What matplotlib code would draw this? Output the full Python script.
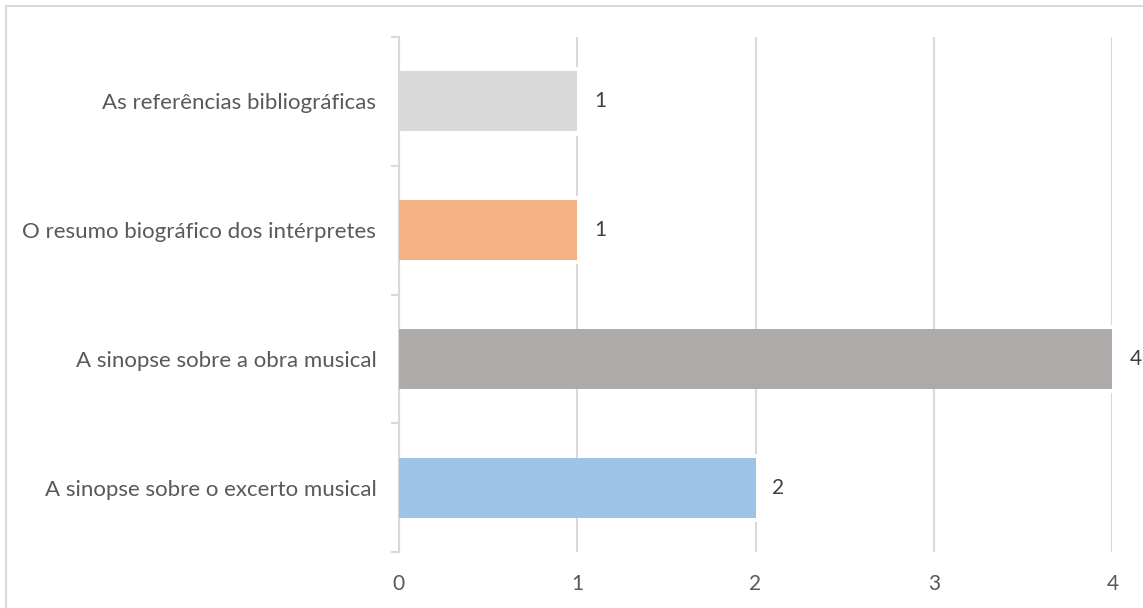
import matplotlib.pyplot as plt
from matplotlib.patches import Rectangle

categories = [
    "A sinopse sobre o excerto musical",
    "A sinopse sobre a obra musical",
    "O resumo biográfico dos intérpretes",
    "As referências bibliográficas",
]
values = [2, 4, 1, 1]
colors = ["#9DC3E6", "#AEAAAA", "#F4B183", "#D9D9D9"]
xticks = [0, 1, 2, 3, 4]

plt.rcParams["font.family"] = ["Lato", "DejaVu Sans"]
FS = 15

fig = plt.figure(figsize=(11.43, 6.08), dpi=100)
ax = fig.add_axes([0.3487, 0.0921, 0.6246, 0.847])

y = list(range(len(categories)))
ax.barh(y, values, height=0.465, color=colors, zorder=3)

# white gaps in the gridlines next to the bar ends, behind the value labels
ax.barh(y, [0.15] * len(values), left=[v - 0.02 for v in values], height=0.53,
        color="white", zorder=2)
for yi, v in zip(y, values):
    ax.text(v + 0.095, yi, str(v), va="center", ha="left", fontsize=FS,
            color="#404040", zorder=4)

ax.set_xlim(0, 4)
ax.set_ylim(-0.5, len(categories) - 0.5)
ax.set_xticks(xticks)
ax.set_xticklabels([str(t) for t in xticks])
ax.set_yticks([i - 0.5 for i in range(len(categories) + 1)], minor=False)
ax.set_yticklabels([])
ax.set_yticks(y, minor=True)
ax.set_yticklabels(categories, minor=True)

ax.grid(axis="x", color="#D9D9D9", linewidth=1.5, zorder=1)
ax.set_axisbelow(True)

for s in ["top", "right", "bottom"]:
    ax.spines[s].set_visible(False)
ax.spines["left"].set_color("#D9D9D9")
ax.spines["left"].set_linewidth(1.5)

ax.tick_params(axis="y", which="major", length=6, width=1.5, color="#D9D9D9")
ax.tick_params(axis="y", which="minor", length=0, pad=16, labelsize=16,
               labelcolor="#595959")
ax.tick_params(axis="x", length=0, pad=16, labelsize=FS, labelcolor="#595959")

# chart area border
fig.add_artist(Rectangle((5.5 / 1143, -0.1), 1.2, 1.1 - 7.5 / 608 + 0.002,
                         transform=fig.transFigure, fill=False,
                         edgecolor="#D9D9D9", linewidth=1.5))

fig.savefig("out.png", dpi=100)
